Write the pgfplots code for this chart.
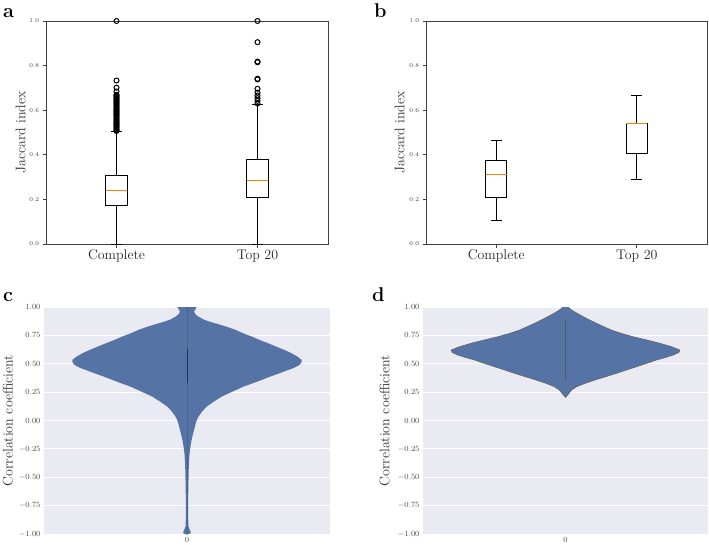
\documentclass[border=0pt]{standalone}
\usepackage{pgfplots}
\pgfplotsset{compat=1.18}
\usepgfplotslibrary{statistics}
\definecolor{mplorange}{HTML}{FF7F0E}
\definecolor{sbbg}{HTML}{EAEAF2}
\definecolor{violin}{HTML}{5573A5}
\begin{document}
\begin{tikzpicture}
\path[use as bounding box] (0,0) rectangle (709bp,-545bp);
\pgfplotsset{
  boxaxis/.style={
    scale only axis, height=223bp,
    xmin=0.5, xmax=2.5, ymin=0, ymax=1,
    boxplot/draw direction=y,
    xtick={1,2}, xticklabels={Complete,Top 20},
    ytick={0,0.2,0.4,0.6,0.8,1.0},
    tick pos=left, tick align=outside, major tick length=3.5bp,
    axis line style={draw=black!75, line width=0.8bp},
    every tick/.style={draw=black!75, line width=0.8bp},
    yticklabel style={font=\fontsize{6.5}{6.5}\selectfont, color=black!75,
      /pgf/number format/fixed, /pgf/number format/fixed zerofill,
      /pgf/number format/precision=1},
    xticklabel style={font=\fontsize{14}{14}\selectfont, color=black!85, inner sep=2pt},
    ylabel={Jaccard index},
    ylabel style={font=\fontsize{14}{14}\selectfont, color=black!80, anchor=south, inner sep=0pt},
  },
  bp/.style={draw=black, line width=0.9bp, mark=o, mark size=2.5bp,
    mark options={draw=black, line width=1bp, fill=none},
    boxplot/every median/.style={draw=mplorange, line width=0.9bp}},
  violinaxis/.style={
    scale only axis, height=227bp,
    xmin=-0.5, xmax=0.5, ymin=-1, ymax=1,
    axis background/.style={fill=sbbg},
    axis line style={draw=none},
    ymajorgrids, grid style={draw=white, line width=1bp},
    major tick length=0pt,
    ytick={-1,-0.75,-0.5,-0.25,0,0.25,0.5,0.75,1},
    xtick={0},
    yticklabel style={font=\fontsize{8.5}{8.5}\selectfont, color=black!70,
      /pgf/number format/fixed, /pgf/number format/fixed zerofill,
      /pgf/number format/precision=2},
    xticklabel style={font=\fontsize{8.5}{8.5}\selectfont, color=black!70},
    ylabel={Correlation coefficient},
    ylabel style={font=\fontsize{14}{14}\selectfont, color=black!80, anchor=south, inner sep=0pt},
  },
}

% ---------------- panel a
\begin{axis}[boxaxis, width=282bp, at={(46bp,-244bp)}, anchor=south west,
  ylabel style={at={(axis description cs:-0.071,0.5)}}]
\addplot[bp, boxplot prepared={lower whisker=0, lower quartile=0.172, median=0.24,
  upper quartile=0.308, upper whisker=0.505, draw position=1,
  box extend=0.15, whisker extend=0.075}]
  table[row sep=\\, y index=0] {data\\ 1.0\\ 0.733\\ 0.701\\ 0.684\\ 0.669\\
  0.665\\ 0.66\\ 0.655\\ 0.65\\ 0.645\\ 0.64\\ 0.635\\ 0.63\\ 0.625\\ 0.62\\
  0.615\\ 0.61\\ 0.605\\ 0.6\\ 0.595\\ 0.59\\ 0.585\\ 0.58\\ 0.575\\ 0.57\\
  0.565\\ 0.56\\ 0.555\\ 0.55\\ 0.545\\ 0.54\\ 0.535\\ 0.53\\ 0.525\\ 0.52\\
  0.515\\ 0.51\\ 0.507\\};
\addplot[bp, boxplot prepared={lower whisker=0, lower quartile=0.21, median=0.287,
  upper quartile=0.38, upper whisker=0.624, draw position=2,
  box extend=0.15, whisker extend=0.075}]
  table[row sep=\\, y index=0] {data\\ 1.0\\ 0.905\\ 0.818\\ 0.815\\ 0.741\\ 0.738\\
  0.696\\ 0.679\\ 0.666\\ 0.654\\ 0.642\\ 0.63\\};
\end{axis}

% ---------------- panel b
\begin{axis}[boxaxis, width=281bp, at={(426bp,-244bp)}, anchor=south west,
  ylabel style={at={(axis description cs:-0.075,0.5)}}]
\addplot[bp, boxplot prepared={lower whisker=0.107, lower quartile=0.207, median=0.31,
  upper quartile=0.373, upper whisker=0.465, draw position=1,
  box extend=0.15, whisker extend=0.075}]
  table[row sep=\\, y index=0] {data\\};
\addplot[bp, boxplot prepared={lower whisker=0.288, lower quartile=0.405, median=0.54,
  upper quartile=0.541, upper whisker=0.665, draw position=2,
  box extend=0.15, whisker extend=0.075}]
  table[row sep=\\, y index=0] {data\\};
\end{axis}

% ---------------- panel c
\begin{axis}[violinaxis, width=286bp, at={(44bp,-534bp)}, anchor=south west,
  ylabel style={at={(axis description cs:-0.108,0.5)}}]
\addplot[fill=violin, draw=none] coordinates {
 (0.036,1.03) (0.034,1.00) (0.028,0.975) (0.0245,0.959) (0.030,0.935) (0.040,0.915)
 (0.058,0.89) (0.080,0.870) (0.108,0.85) (0.139,0.826) (0.168,0.80) (0.197,0.768)
 (0.226,0.74) (0.255,0.709) (0.284,0.68) (0.313,0.650) (0.342,0.62) (0.366,0.592)
 (0.388,0.56) (0.401,0.533) (0.400,0.51) (0.393,0.489) (0.375,0.465) (0.354,0.445)
 (0.322,0.415) (0.290,0.386) (0.243,0.34) (0.197,0.298) (0.155,0.25) (0.121,0.210)
 (0.090,0.16) (0.069,0.122) (0.053,0.08) (0.040,0.034) (0.034,0.004) (0.029,-0.04)
 (0.0245,-0.084) (0.020,-0.13) (0.016,-0.172) (0.012,-0.23) (0.009,-0.289)
 (0.007,-0.36) (0.006,-0.436) (0.005,-0.55) (0.004,-0.70) (0.004,-0.85)
 (0.005,-0.93) (0.009,-0.96) (0.013,-0.98) (0.013,-0.995) (0,-1.005)
 (-0.013,-0.995) (-0.013,-0.98) (-0.009,-0.96) (-0.005,-0.93) (-0.004,-0.85)
 (-0.004,-0.70) (-0.005,-0.55) (-0.006,-0.436) (-0.007,-0.36) (-0.009,-0.289)
 (-0.012,-0.23) (-0.016,-0.172) (-0.020,-0.13) (-0.0245,-0.084) (-0.029,-0.04)
 (-0.034,0.004) (-0.040,0.034) (-0.053,0.08) (-0.069,0.122) (-0.090,0.16)
 (-0.121,0.210) (-0.155,0.25) (-0.197,0.298) (-0.243,0.34) (-0.290,0.386)
 (-0.322,0.415) (-0.354,0.445) (-0.375,0.465) (-0.393,0.489) (-0.400,0.51)
 (-0.401,0.533) (-0.388,0.56) (-0.366,0.592) (-0.342,0.62) (-0.313,0.650)
 (-0.284,0.68) (-0.255,0.709) (-0.226,0.74) (-0.197,0.768) (-0.168,0.80)
 (-0.139,0.826) (-0.108,0.85) (-0.080,0.870) (-0.058,0.89) (-0.040,0.915)
 (-0.030,0.935) (-0.0245,0.959) (-0.028,0.975) (-0.034,1.00) (-0.036,1.03)
};
\addplot[violin!85!black, line width=0.4bp] coordinates {(0,-1) (0,1)};
\addplot[violin!45!black, line width=0.9bp] coordinates {(0,0.33) (0,0.63)};
\end{axis}

% ---------------- panel d
\begin{axis}[violinaxis, width=285bp, at={(423bp,-534bp)}, anchor=south west,
  ylabel style={at={(axis description cs:-0.116,0.5)}}]
\addplot[fill=violin, draw=black!60, line width=0.6bp] coordinates {
 (0,1.02) (0.008,1.00) (0.021,0.974) (0.040,0.945) (0.062,0.915) (0.085,0.885)
 (0.109,0.856) (0.134,0.827) (0.161,0.797) (0.195,0.768) (0.237,0.738)
 (0.285,0.709) (0.331,0.680) (0.372,0.650) (0.401,0.621) (0.398,0.600)
 (0.378,0.577) (0.350,0.555) (0.319,0.533) (0.284,0.503) (0.249,0.474)
 (0.214,0.445) (0.179,0.416) (0.141,0.386) (0.103,0.357) (0.069,0.328)
 (0.039,0.298) (0.022,0.27) (0.012,0.239) (0.006,0.22) (0,0.204)
 (-0.006,0.22) (-0.012,0.239) (-0.022,0.27) (-0.039,0.298) (-0.069,0.328)
 (-0.103,0.357) (-0.141,0.386) (-0.179,0.416) (-0.214,0.445) (-0.249,0.474)
 (-0.284,0.503) (-0.319,0.533) (-0.350,0.555) (-0.378,0.577) (-0.398,0.600)
 (-0.401,0.621) (-0.372,0.650) (-0.331,0.680) (-0.285,0.709) (-0.237,0.738)
 (-0.195,0.768) (-0.161,0.797) (-0.134,0.827) (-0.109,0.856) (-0.085,0.885)
 (-0.062,0.915) (-0.040,0.945) (-0.021,0.974) (-0.008,1.00) (0,1.02)
} -- cycle;
\addplot[black!65, line width=0.9bp] coordinates {(0,0.35) (0,0.89)};
\end{axis}

% panel letters
\node[anchor=base west, inner sep=0pt, font=\bfseries\fontsize{20}{20}\selectfont] at (3bp,-17bp) {a};
\node[anchor=base west, inner sep=0pt, font=\bfseries\fontsize{20}{20}\selectfont] at (374bp,-17bp) {b};
\node[anchor=base west, inner sep=0pt, font=\bfseries\fontsize{20}{20}\selectfont] at (3bp,-301bp) {c};
\node[anchor=base west, inner sep=0pt, font=\bfseries\fontsize{20}{20}\selectfont] at (372bp,-301bp) {d};
\end{tikzpicture}
\end{document}
